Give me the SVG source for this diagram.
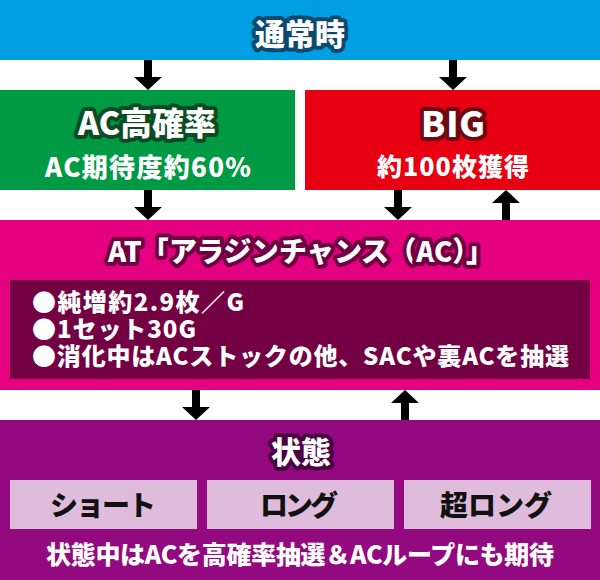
<svg xmlns="http://www.w3.org/2000/svg" width="600" height="580" viewBox="0 0 600 580">
<defs>
<style>
text{font-family:"Noto Sans CJK JP","Noto Sans",sans-serif;font-weight:900;text-anchor:middle;dominant-baseline:central}
.w{fill:#ffffff}
.o{paint-order:stroke;stroke-linejoin:round;stroke-width:8}
.lft{text-anchor:start}
.blk{fill:#111111}
</style>
</defs>
<rect width="600" height="580" fill="#ffffff"/>
<g id="node-normal">
<rect x="0" y="0" width="600" height="60" fill="#009FE3"/>
<text class="w o" x="300" y="32" font-size="30" stroke="#0B4A6E">通常時</text>
</g>
<g id="node-ac-high">
<rect x="0" y="90" width="295" height="100" fill="#009A44"/>
<text class="w o" x="147" y="121" font-size="32" stroke="#0B4A22">AC高確率</text>
<text class="w" x="148" y="165" font-size="26" textLength="206">AC期待度約60%</text>
</g>
<g id="node-big">
<rect x="305" y="90" width="295" height="100" fill="#E60012"/>
<text class="w o" x="453" y="121" font-size="35" stroke="#6B0A12" textLength="64">BIG</text>
<text class="w" x="453" y="165" font-size="25" textLength="152">約100枚獲得</text>
</g>
<g id="node-at">
<rect x="0" y="220" width="600" height="170" fill="#E4007F"/>
<text class="w o" x="301" y="250" font-size="28" stroke="#6E0042" textLength="386">AT「アラジンチャンス（AC）」</text>
<rect x="10" y="280" width="580" height="99" fill="#720043"/>
<text class="w lft" x="32" y="300" font-size="24" textLength="212">●純増約2.9枚／G</text>
<text class="w lft" x="32" y="327" font-size="24" textLength="164">●1セット30G</text>
<text class="w lft" x="32" y="354" font-size="24" textLength="537">●消化中はACストックの他、SACや裏ACを抽選</text>
</g>
<g id="node-state">
<rect x="0" y="420" width="600" height="160" fill="#930A80"/>
<text class="w o" x="301" y="450" font-size="30" stroke="#4A0040">状態</text>
</g>
<g id="node-short">
<rect x="10" y="480" width="187" height="49" fill="#E0BCDC"/>
<text class="blk" x="103" y="504" font-size="28" textLength="106">ショート</text>
</g>
<g id="node-long">
<rect x="207" y="480" width="187" height="49" fill="#E0BCDC"/>
<text class="blk" x="299" y="504" font-size="28" textLength="78">ロング</text>
</g>
<g id="node-superlong">
<rect x="404" y="480" width="187" height="49" fill="#E0BCDC"/>
<text class="blk" x="496" y="504" font-size="28" textLength="112">超ロング</text>
</g>
<g id="state-note">
<text class="w" x="300" y="553" font-size="25" textLength="508">状態中はACを高確率抽選＆ACループにも期待</text>
</g>
<g id="connectors" fill="#000000">
<polygon points="144,60 152,60 152,77 162,77 148,90 134,77 144,77"/>
<polygon points="449,60 457,60 457,77 467,77 453,90 439,77 449,77"/>
<polygon points="144,190 152,190 152,207 162,207 148,220 134,207 144,207"/>
<polygon points="394,190 402,190 402,207 412,207 398,220 384,207 394,207"/>
<polygon points="502,220 510,220 510,203 520,203 506,190 492,203 502,203"/>
<polygon points="192,390 200,390 200,407 210,407 196,420 182,407 192,407"/>
<polygon points="401,420 409,420 409,403 419,403 405,390 391,403 401,403"/>
</g>
</svg>
